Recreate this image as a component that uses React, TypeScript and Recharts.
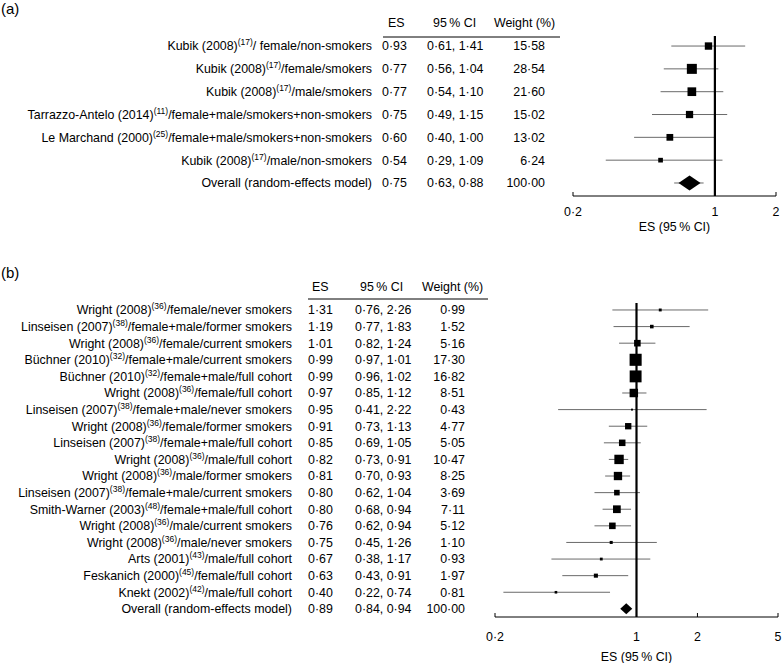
import { ScatterChart, Scatter, XAxis, YAxis, ReferenceLine, ErrorBar, Label } from 'recharts'

const FONT = '"Liberation Sans", Arial, Helvetica, sans-serif'

// (a) studies
const studiesA = ['Kubik (2008)', 'Kubik (2008)', 'Kubik (2008)', 'Tarrazzo-Antelo (2014)', 'Le Marchand (2000)', 'Kubik (2008)', 'Overall (random-effects model)']
const refsA = ['17', '17', '17', '11', '25', '17', '']
const groupsA = ['/ female/non-smokers', '/female/smokers', '/male/smokers', '/female+male/smokers+non-smokers', '/female+male/smokers+non-smokers', '/male/non-smokers', '']
const esA = [0.93, 0.77, 0.77, 0.75, 0.6, 0.54, 0.75]
const loA = [0.61, 0.56, 0.54, 0.49, 0.4, 0.29, 0.63]
const hiA = [1.41, 1.04, 1.1, 1.15, 1.0, 1.09, 0.88]
const weightA = [15.58, 28.54, 21.6, 15.02, 13.02, 6.24, 100.0]
const ticksA = [0.2, 1, 2]

// (b) studies
const studiesB = [
  'Wright (2008)', 'Linseisen (2007)', 'Wright (2008)', 'Büchner (2010)', 'Büchner (2010)', 'Wright (2008)',
  'Linseisen (2007)', 'Wright (2008)', 'Linseisen (2007)', 'Wright (2008)', 'Wright (2008)', 'Linseisen (2007)',
  'Smith-Warner (2003)', 'Wright (2008)', 'Wright (2008)', 'Arts (2001)', 'Feskanich (2000)', 'Knekt (2002)',
  'Overall (random-effects model)',
]
const refsB = ['36', '38', '36', '32', '32', '36', '38', '36', '38', '36', '36', '38', '48', '36', '36', '43', '45', '42', '']
const groupsB = [
  '/female/never smokers', '/female+male/former smokers', '/female/current smokers', '/female+male/current smokers',
  '/female+male/full cohort', '/female/full cohort', '/female+male/never smokers', '/female/former smokers',
  '/female+male/full cohort', '/male/full cohort', '/male/former smokers', '/female+male/current smokers',
  '/female+male/full cohort', '/male/current smokers', '/male/never smokers', '/male/full cohort',
  '/female/full cohort', '/male/full cohort', '',
]
const esB = [1.31, 1.19, 1.01, 0.99, 0.99, 0.97, 0.95, 0.91, 0.85, 0.82, 0.81, 0.8, 0.8, 0.76, 0.75, 0.67, 0.63, 0.4, 0.89]
const loB = [0.76, 0.77, 0.82, 0.97, 0.96, 0.85, 0.41, 0.73, 0.69, 0.73, 0.7, 0.62, 0.68, 0.62, 0.45, 0.38, 0.43, 0.22, 0.84]
const hiB = [2.26, 1.83, 1.24, 1.01, 1.02, 1.12, 2.22, 1.13, 1.05, 0.91, 0.93, 1.04, 0.94, 0.94, 1.26, 1.17, 0.91, 0.74, 0.94]
const weightB = [0.99, 1.52, 5.16, 17.3, 16.82, 8.51, 0.43, 4.77, 5.05, 10.47, 8.25, 3.69, 7.11, 5.12, 1.1, 0.93, 1.97, 0.81, 100.0]
const ticksB = [0.2, 1, 2, 5]

interface Row {
  row: number
  name: string
  refNo: string
  group: string
  es: number
  lo: number
  hi: number
  weight: number
  err: [number, number]
}

interface Layout {
  top: number
  height: number
  margin: { top: number; right: number; bottom: number; left: number }
  yWidth: number
  xHeight: number
  yDomain: [number, number]
  xDomain: [number, number]
  ticks: number[]
  tickDy: number
  titleOffset: number
  labelRight: number
  esX: number
  ciX: number
  weightRight: number
  boxScale: number
  diamond: [number, number]
  tag: string
  tagY: number
  headY: number
  headX: [number, number, number]
  ruleY: number
  ruleX: [number, number]
}

const fmt = (v: number) => v.toFixed(2).replace('.', '\u00b7')
const fmtTick = (v: number) => String(v).replace('.', '\u00b7')

const buildRows = (names: string[], refs: string[], groups: string[], es: number[], lo: number[], hi: number[], w: number[]): Row[] =>
  names.map((name, i) => ({
    row: i,
    name,
    refNo: refs[i],
    group: groups[i],
    es: es[i],
    lo: lo[i],
    hi: hi[i],
    weight: w[i],
    err: [es[i] - lo[i], hi[i] - es[i]],
  }))

const rowsA = buildRows(studiesA, refsA, groupsA, esA, loA, hiA, weightA)
const rowsB = buildRows(studiesB, refsB, groupsB, esB, loB, hiB, weightB)

const layoutA: Layout = {
  top: 0,
  height: 250,
  margin: { top: 36, right: 6, bottom: 14, left: 0 },
  yWidth: 573,
  xHeight: 40,
  yDomain: [-0.44, 6.57],
  xDomain: [0.2, 2],
  ticks: ticksA,
  tickDy: 20,
  titleOffset: 5,
  labelRight: 372,
  esX: 382,
  ciX: 427,
  weightRight: 545,
  boxScale: 1.87,
  diamond: [11, 7.5],
  tag: '(a)',
  tagY: 14,
  headY: 27,
  headX: [388, 433, 494],
  ruleY: 37,
  ruleX: [383, 560],
}

const layoutB: Layout = {
  top: 250,
  height: 413,
  margin: { top: 53, right: 4, bottom: 0, left: 0 },
  yWidth: 495,
  xHeight: 46,
  yDomain: [-0.42, 18.49],
  xDomain: [0.2, 5],
  ticks: ticksB,
  tickDy: 24,
  titleOffset: 2,
  labelRight: 292,
  esX: 308,
  ciX: 355,
  weightRight: 465,
  boxScale: 2.9,
  diamond: [6, 5.5],
  tag: '(b)',
  tagY: 28,
  headY: 41,
  headX: [312, 360, 422],
  ruleY: 49,
  ruleX: [308, 488],
}

const RowTick = ({ y, payload, rows, L }: any) => {
  const r: Row | undefined = rows[payload?.value]
  if (!r) return null
  return (
    <g fontFamily={FONT} fontSize={12.4} fill="#000">
      <text x={L.labelRight} y={y} dy="0.35em" textAnchor="end">
        {r.name}
        {r.refNo && <tspan dy={-5} fontSize={8.5}>({r.refNo})</tspan>}
        {r.refNo && <tspan dy={5}>{r.group}</tspan>}
      </text>
      <text x={L.esX} y={y} dy="0.35em">{fmt(r.es)}</text>
      <text x={L.ciX} y={y} dy="0.35em">{fmt(r.lo)}, {fmt(r.hi)}</text>
      <text x={L.weightRight} y={y} dy="0.35em" textAnchor="end">{fmt(r.weight)}</text>
    </g>
  )
}

const AxisTick = ({ x, y, payload, L }: any) => (
  <g>
    <line x1={x} y1={y} x2={x} y2={y - 4} stroke="#000" strokeWidth={1} />
    <text x={x} y={y + L.tickDy} textAnchor="middle" fontFamily={FONT} fontSize={12.4} fill="#000">
      {fmtTick(payload.value)}
    </text>
  </g>
)

const Marker = ({ cx, cy, payload, L }: any) => {
  if (cx == null || cy == null) return null
  if (!payload.refNo) {
    const [hw, hh] = L.diamond
    return <polygon points={`${cx - hw},${cy} ${cx},${cy - hh} ${cx + hw},${cy} ${cx},${cy + hh}`} fill="#000" />
  }
  const s = L.boxScale * Math.sqrt(payload.weight)
  return <rect x={cx - s / 2} y={cy - s / 2} width={s} height={s} fill="#000" />
}

function ForestPanel({ rows, L }: { rows: Row[]; L: Layout }) {
  return (
    <div style={{ position: 'absolute', left: 0, top: L.top, width: 782, height: L.height }}>
      <ScatterChart width={782} height={L.height} margin={L.margin}>
        <XAxis
          type="number"
          dataKey="es"
          scale="log"
          domain={L.xDomain}
          ticks={L.ticks}
          allowDataOverflow
          interval={0}
          height={L.xHeight}
          axisLine={{ stroke: '#000', strokeWidth: 1 }}
          tickLine={false}
          tickSize={0}
          tickMargin={0}
          tick={(p: any) => <AxisTick {...p} L={L} />}
        >
          <Label
            value={'ES (95\u2009% CI)'}
            position="insideBottom"
            offset={L.titleOffset}
            style={{ fontFamily: FONT, fontSize: 12.4, fill: '#000' }}
          />
        </XAxis>
        <YAxis
          type="number"
          dataKey="row"
          domain={L.yDomain}
          reversed
          allowDataOverflow
          ticks={rows.map(r => r.row)}
          interval={0}
          width={L.yWidth}
          axisLine={false}
          tickLine={false}
          tick={(p: any) => <RowTick {...p} rows={rows} L={L} />}
        />
        <Scatter data={rows} isAnimationActive={false} shape={() => <g />}>
          <ErrorBar dataKey="err" direction="x" width={0} stroke="#6a6a6a" strokeWidth={1} />
        </Scatter>
        <ReferenceLine x={1} stroke="#000" strokeWidth={2.2} />
        <Scatter data={rows} isAnimationActive={false} shape={(p: any) => <Marker {...p} L={L} />} />
      </ScatterChart>
      <svg width={782} height={L.height} style={{ position: 'absolute', left: 0, top: 0, pointerEvents: 'none' }}>
        <g fontFamily={FONT} fill="#000">
          <text x={1} y={L.tagY} fontSize={15}>{L.tag}</text>
          <text x={L.headX[0]} y={L.headY} fontSize={12.4}>ES</text>
          <text x={L.headX[1]} y={L.headY} fontSize={12.4}>{'95\u2009% CI'}</text>
          <text x={L.headX[2]} y={L.headY} fontSize={12.4}>Weight (%)</text>
        </g>
        <line x1={L.ruleX[0]} y1={L.ruleY} x2={L.ruleX[1]} y2={L.ruleY} stroke="#000" strokeWidth={1} />
      </svg>
    </div>
  )
}

export default function App() {
  return (
    <div style={{ position: 'absolute', left: 0, top: 0, width: 782, height: 663, background: '#fff' }}>
      <ForestPanel rows={rowsA} L={layoutA} />
      <ForestPanel rows={rowsB} L={layoutB} />
    </div>
  )
}
